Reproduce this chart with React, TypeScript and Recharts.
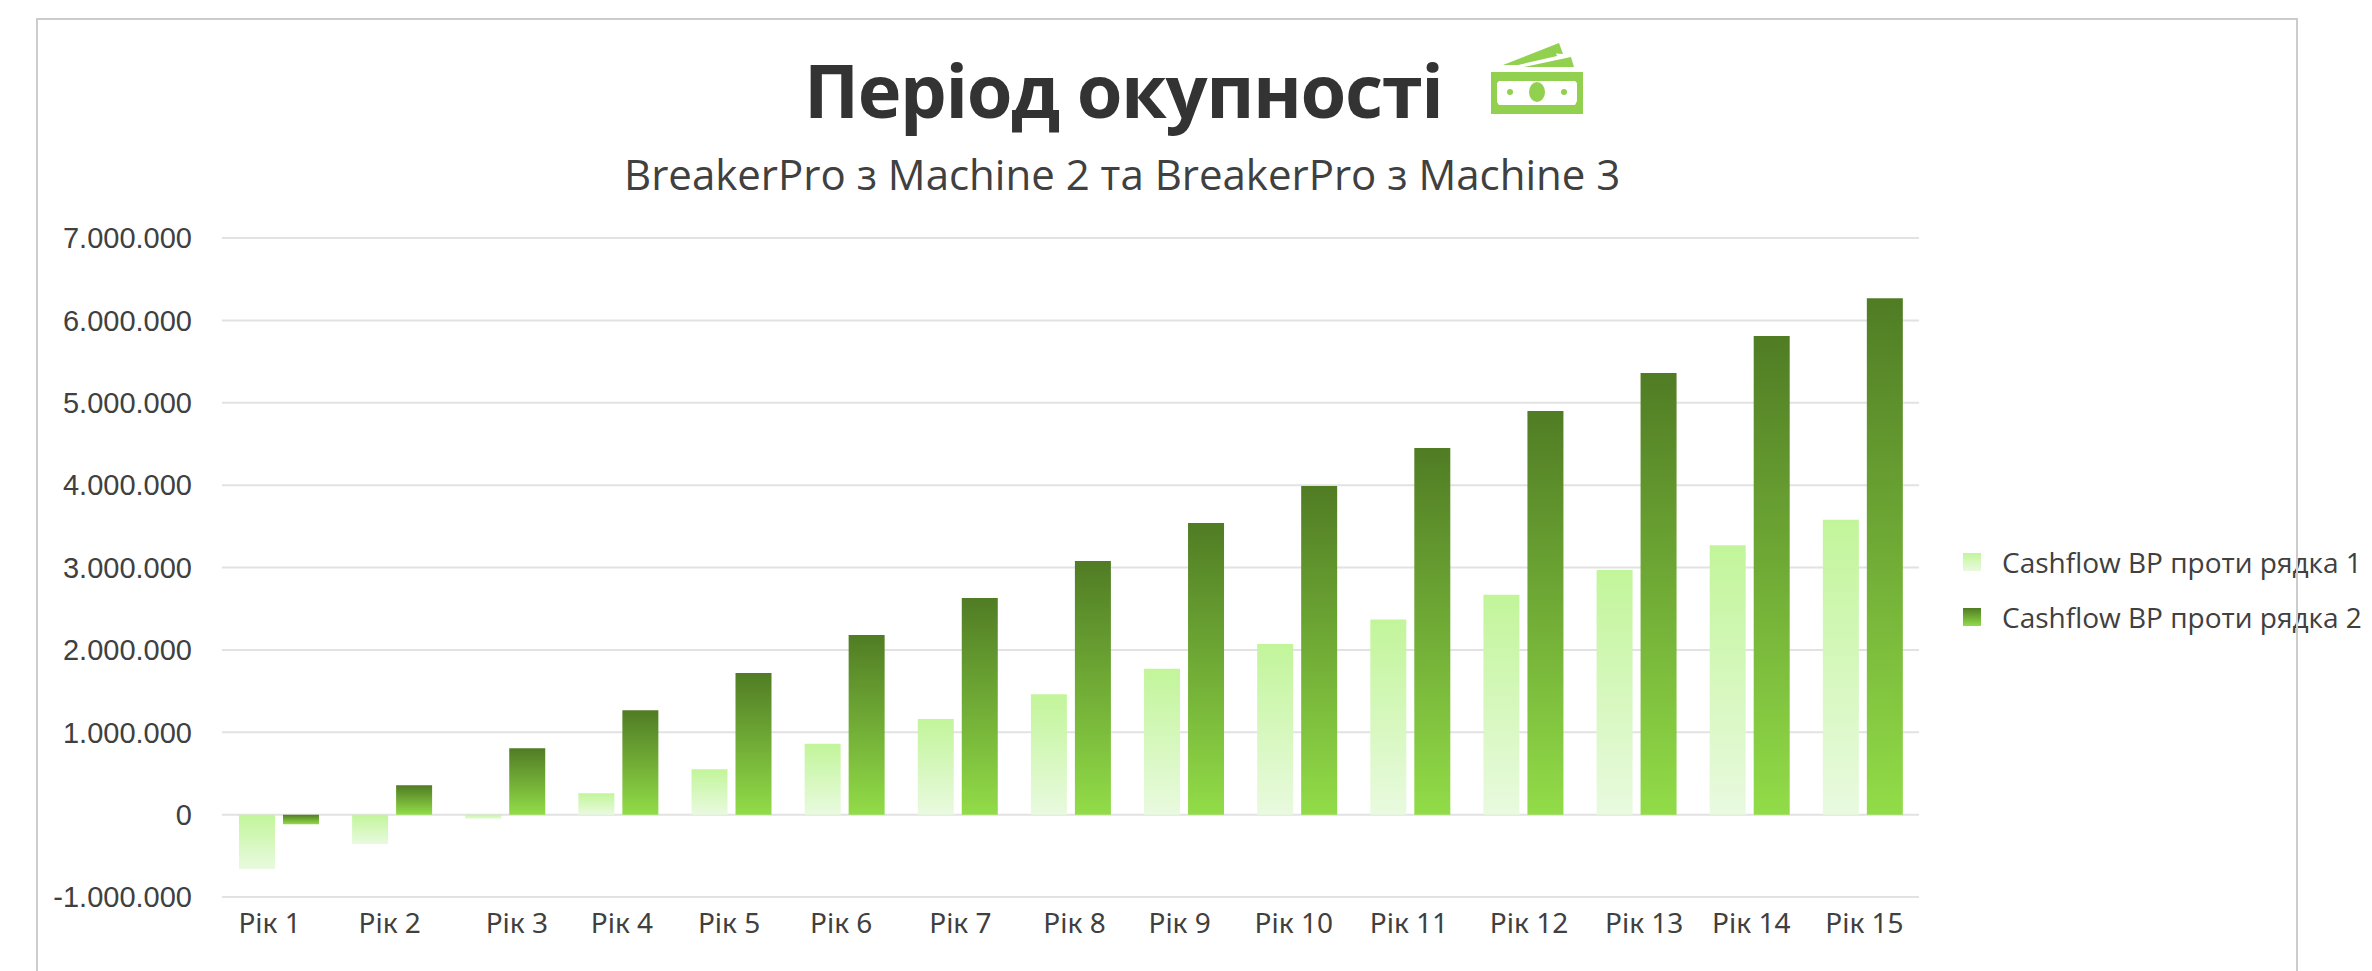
import React from "react";
import { BarChart, Bar, XAxis, YAxis, CartesianGrid, Legend } from "recharts";

const categories = ["Рік 1","Рік 2","Рік 3","Рік 4","Рік 5","Рік 6","Рік 7","Рік 8","Рік 9","Рік 10","Рік 11","Рік 12","Рік 13","Рік 14","Рік 15"];
const series1 = [-660000,-357000,-50000,259000,550000,860000,1160000,1460000,1770000,2070000,2370000,2670000,2970000,3270000,3580000];
const series2 = [-117000,356000,805000,1266000,1720000,2180000,2630000,3080000,3540000,3990000,4450000,4900000,5360000,5810000,6270000];
const yTicks = [-1000000,0,1000000,2000000,3000000,4000000,5000000,6000000,7000000];
const seriesNames = ["Cashflow BP проти рядка 1","Cashflow BP проти рядка 2"];
const tickShift = [-9,-2,12,4,-2,-3,3,4,-4,-3,-1,6,8,2,2];

const data = categories.map((name, i) => ({ name, s1: series1[i], s2: series2[i] }));
const fmt = (v: number) => v.toString().replace(/\B(?=(\d{3})+(?!\d))/g, ".");
const sans = "'Open Sans', sans-serif";
const TEXT = "#404040";

const XTick = (p: any) => (
  <text x={p.x + tickShift[p.index]} y={p.y + 10} textAnchor="middle" fill={TEXT} fontSize={28} fontFamily="'Noto Sans', sans-serif">
    {p.payload.value}
  </text>
);

const LegendBox = () => (
  <div style={{ fontFamily: sans, fontSize: 28, color: TEXT }}>
    {seriesNames.map((n, i) => (
      <div key={n} style={{ display: "flex", alignItems: "center", height: 55, whiteSpace: "nowrap" }}>
        <div style={{ width: 18, height: 18, marginRight: 21, background: i === 0 ? "linear-gradient(#C2F59A,#E9FADF)" : "linear-gradient(#507C24,#92DC48)" }} />
        {n}
      </div>
    ))}
  </div>
);

const Icon = () => (
  <svg width={96} height={72} viewBox="0 0 96 72" style={{ position: "absolute", left: 1489, top: 42 }}>
    <path fill="#92D050" d="M2 30H94V72H2Z" />
    <path fill="#fff" fillRule="evenodd" d="M10 39H86L88 41V59L86 63H10L8 60V41Z" />
    <ellipse cx="48" cy="50" rx="8" ry="10" fill="#92D050" />
    <circle cx="21" cy="50" r="3" fill="#92D050" />
    <circle cx="75" cy="50" r="3" fill="#92D050" />
    <path fill="#92D050" d="M14 23L70 1L74 12L67 11.5L68 14L29 23Z" />
    <path fill="#92D050" d="M35 25L82 15L85 25Z" />
  </svg>
);

export default function App() {
  return (
    <div style={{ position: "absolute", left: 0, top: 0, width: 2372, height: 971, background: "#fff", overflow: "hidden" }}>
      <div style={{ position: "absolute", left: 804, top: 42, fontFamily: sans, fontWeight: 700, fontSize: 74, letterSpacing: -1.4, color: "#333", lineHeight: "96px", whiteSpace: "nowrap" }}>
        Період окупності
      </div>
      <div style={{ position: "absolute", left: 624, top: 146, fontFamily: sans, fontSize: 42, color: TEXT, lineHeight: "56px", whiteSpace: "nowrap" }}>
        BreakerPro з Machine 2 та BreakerPro з Machine 3
      </div>
      <Icon />
      <BarChart width={2372} height={971} data={data} margin={{ top: 238, right: 453, bottom: 0, left: 0 }} barCategoryGap="15%" barGap={8} style={{ position: "absolute", left: 0, top: 0 }}>
        <defs>
          <linearGradient id="g1" x1="0" y1="0" x2="0" y2="1">
            <stop offset="0" stopColor="#C2F59A" />
            <stop offset="1" stopColor="#E9FADF" />
          </linearGradient>
          <linearGradient id="g2" x1="0" y1="0" x2="0" y2="1">
            <stop offset="0" stopColor="#507C24" />
            <stop offset="1" stopColor="#92DC48" />
          </linearGradient>
        </defs>
        <CartesianGrid horizontal vertical={false} stroke="#E2E2E2" strokeWidth={2} />
        <XAxis dataKey="name" height={74} axisLine={false} tickLine={false} tick={XTick} interval={0} tickMargin={20} />
        <YAxis width={222} domain={[-1000000, 7000000]} ticks={yTicks} interval={0} axisLine={false} tickLine={false} tickMargin={24} tickFormatter={fmt} tick={{ fill: TEXT, fontSize: 29, fontFamily: "'Liberation Sans', sans-serif" }} />
        <Legend layout="horizontal" verticalAlign="middle" content={LegendBox} wrapperStyle={{ position: "absolute", left: 1963, top: 534, width: 420, bottom: "auto", right: "auto" }} />
        <Bar dataKey="s1" name={seriesNames[0]} fill="url(#g1)" isAnimationActive={false} />
        <Bar dataKey="s2" name={seriesNames[1]} fill="url(#g2)" isAnimationActive={false} />
      </BarChart>
      <div style={{ position: "absolute", left: 36, top: 18, width: 2258, height: 960, border: "2px solid #CCCCCC", pointerEvents: "none" }} />
    </div>
  );
}
